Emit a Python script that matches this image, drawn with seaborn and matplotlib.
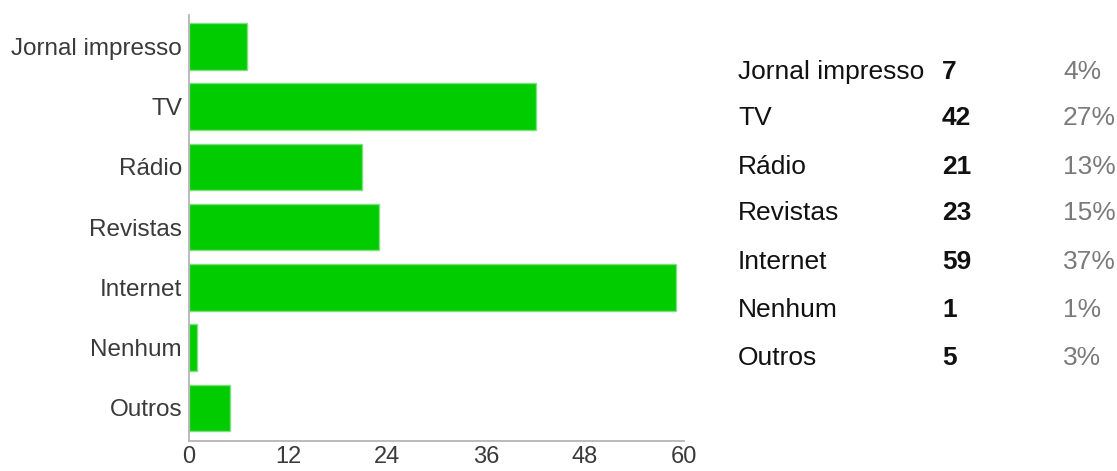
import matplotlib
matplotlib.use("Agg")
import matplotlib.pyplot as plt
import seaborn as sns
import pandas as pd

categories = ["Jornal impresso", "TV", "Rádio", "Revistas", "Internet", "Nenhum", "Outros"]
counts = [7, 42, 21, 23, 59, 1, 5]
percents = ["4%", "27%", "13%", "15%", "37%", "1%", "3%"]
xticks = [0, 12, 24, 36, 48, 60]

sns.set_style("white")
plt.rcParams["font.family"] = ["Liberation Sans", "DejaVu Sans"]

W, H = 1117, 471
fig = plt.figure(figsize=(W / 100, H / 100), dpi=100)
ax = fig.add_axes([189 / W, 1 - 441 / H, (684 - 189) / W, (441 - 15) / H])

df = pd.DataFrame({"cat": categories, "n": counts})
sns.barplot(data=df, x="n", y="cat", orient="h", color="#00cc00",
            saturation=1, width=0.77, edgecolor="#7fe07f", linewidth=1, ax=ax)

ax.set_xlim(0, 60)
ax.set_ylim(6.55, -0.52)
ax.set_xticks(xticks)
ax.set_xticklabels([str(t) for t in xticks])
ax.set_xlabel("")
ax.set_ylabel("")
for s in ["top", "right"]:
    ax.spines[s].set_visible(False)
for s in ["left", "bottom"]:
    ax.spines[s].set_color("#b5b5b5")
    ax.spines[s].set_linewidth(1.3)
ax.tick_params(axis="both", colors="#b5b5b5", labelcolor="#3a3a3a",
               labelsize=17.5, length=5, width=1.2, direction="out")
ax.tick_params(axis="y", pad=0)
ax.tick_params(axis="x", pad=0.5, length=3, labelsize=17)

# table on the right
row_y = [72, 118, 167, 213, 262, 310, 358]
for i, (c, n, p) in enumerate(zip(categories, counts, percents)):
    yy = 1 - row_y[i] / H
    fig.text(738 / W, yy, c, fontsize=19, color="#111111", va="center", ha="left")
    fig.text(942 / W, yy, str(n), fontsize=19, color="#111111",
             fontweight="bold", va="center", ha="left")
    fig.text(1063 / W, yy, p, fontsize=19, color="#7a7a7a", va="center", ha="left")

fig.savefig("out.png", dpi=100, facecolor="white")
